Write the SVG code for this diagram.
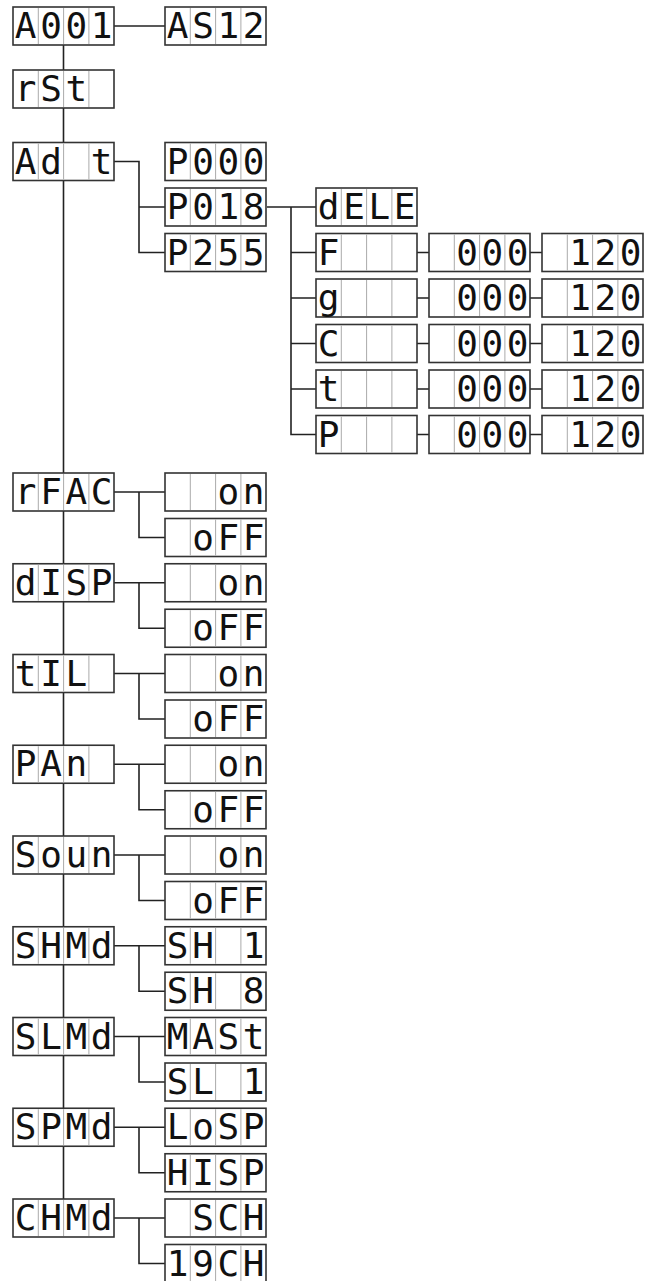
<svg xmlns="http://www.w3.org/2000/svg" xmlns:xlink="http://www.w3.org/1999/xlink" width="651" height="1281" viewBox="0 0 651 1281">
<style>
.bx{fill:#fff;stroke:#333;stroke-width:1.6}
.dv{stroke:#aaa;stroke-width:1}
.seg{font-family:"DejaVu Sans Mono","Liberation Mono",monospace;font-size:36px;text-anchor:middle;fill:#111}
.cn{fill:none;stroke:#222;stroke-width:1.6}
</style>
<defs>
<g id="box">
<rect class="bx" x="0" y="0" width="101" height="38"/>
<path class="dv" d="M25.3 1V37M50.6 1V37M75.9 1V37"/>
</g>
</defs>
<rect width="651" height="1281" fill="#fff"/>
<g id="connectors">
<path class="cn" d="M63.5 45V1199"/>
<path class="cn" d="M114 26H165"/>
<path class="cn" d="M114 161.5H139V252.5H165M139 207H165"/>
<path class="cn" d="M267 207H316M291 207V434.5H316M291 252.5H316M291 298H316M291 343.5H316M291 389H316"/>
<path class="cn" d="M417 252.5H429M417 298H429M417 343.5H429M417 389H429M417 434.5H429"/>
<path class="cn" d="M530 252.5H542M530 298H542M530 343.5H542M530 389H542M530 434.5H542"/>
<path class="cn" d="M114 492H139V537.5H165M139 492H165"/>
<path class="cn" d="M114 582.75H139V628.25H165M139 582.75H165"/>
<path class="cn" d="M114 673.5H139V719H165M139 673.5H165"/>
<path class="cn" d="M114 764.25H139V809.75H165M139 764.25H165"/>
<path class="cn" d="M114 855H139V900.5H165M139 855H165"/>
<path class="cn" d="M114 945.75H139V991.25H165M139 945.75H165"/>
<path class="cn" d="M114 1036.5H139V1082H165M139 1036.5H165"/>
<path class="cn" d="M114 1127.25H139V1172.75H165M139 1127.25H165"/>
<path class="cn" d="M114 1218H139V1263.5H165M139 1218H165"/>
</g>
<g id="n-A001"><use xlink:href="#box" x="13" y="7"/><text class="seg" x="25.7 51 76.3 101.6" y="38">A001</text></g>
<g id="n-AS12"><use xlink:href="#box" x="165" y="7"/><text class="seg" x="177.7 203 228.3 253.6" y="38">AS12</text></g>
<g id="n-rSt"><use xlink:href="#box" x="13" y="70"/><text class="seg" x="25.7 51 76.3" y="101">rSt</text></g>
<g id="n-Adt"><use xlink:href="#box" x="13" y="142.5"/><text class="seg" xml:space="preserve" x="25.7 51 76.3 101.6" y="173.5">Ad t</text></g>
<g id="n-P000"><use xlink:href="#box" x="165" y="142.5"/><text class="seg" x="177.7 203 228.3 253.6" y="173.5">P000</text></g>
<g id="n-P018"><use xlink:href="#box" x="165" y="188"/><text class="seg" x="177.7 203 228.3 253.6" y="219">P018</text></g>
<g id="n-P255"><use xlink:href="#box" x="165" y="233.5"/><text class="seg" x="177.7 203 228.3 253.6" y="264.5">P255</text></g>
<g id="n-dELE"><use xlink:href="#box" x="316" y="188"/><text class="seg" x="328.7 354 379.3 404.6" y="219">dELE</text></g>
<g id="n-F"><use xlink:href="#box" x="316" y="233.5"/><text class="seg" x="328.7" y="264.5">F</text></g>
<g id="n-g"><use xlink:href="#box" x="316" y="279"/><text class="seg" x="328.7" y="310">g</text></g>
<g id="n-C"><use xlink:href="#box" x="316" y="324.5"/><text class="seg" x="328.7" y="355.5">C</text></g>
<g id="n-t"><use xlink:href="#box" x="316" y="370"/><text class="seg" x="328.7" y="401">t</text></g>
<g id="n-P"><use xlink:href="#box" x="316" y="415.5"/><text class="seg" x="328.7" y="446.5">P</text></g>
<g id="n-F000"><use xlink:href="#box" x="429" y="233.5"/><text class="seg" x="467 492.3 517.6" y="264.5">000</text></g>
<g id="n-g000"><use xlink:href="#box" x="429" y="279"/><text class="seg" x="467 492.3 517.6" y="310">000</text></g>
<g id="n-C000"><use xlink:href="#box" x="429" y="324.5"/><text class="seg" x="467 492.3 517.6" y="355.5">000</text></g>
<g id="n-t000"><use xlink:href="#box" x="429" y="370"/><text class="seg" x="467 492.3 517.6" y="401">000</text></g>
<g id="n-P000b"><use xlink:href="#box" x="429" y="415.5"/><text class="seg" x="467 492.3 517.6" y="446.5">000</text></g>
<g id="n-F120"><use xlink:href="#box" x="542" y="233.5"/><text class="seg" x="580 605.3 630.6" y="264.5">120</text></g>
<g id="n-g120"><use xlink:href="#box" x="542" y="279"/><text class="seg" x="580 605.3 630.6" y="310">120</text></g>
<g id="n-C120"><use xlink:href="#box" x="542" y="324.5"/><text class="seg" x="580 605.3 630.6" y="355.5">120</text></g>
<g id="n-t120"><use xlink:href="#box" x="542" y="370"/><text class="seg" x="580 605.3 630.6" y="401">120</text></g>
<g id="n-P120"><use xlink:href="#box" x="542" y="415.5"/><text class="seg" x="580 605.3 630.6" y="446.5">120</text></g>
<g id="n-rFAC"><use xlink:href="#box" x="13" y="473"/><text class="seg" x="25.7 51 76.3 101.6" y="504">rFAC</text></g>
<g id="n-rFAC-on"><use xlink:href="#box" x="165" y="473"/><text class="seg" x="228.3 253.6" y="504">on</text></g>
<g id="n-rFAC-off"><use xlink:href="#box" x="165" y="518.5"/><text class="seg" x="203 228.3 253.6" y="549.5">oFF</text></g>
<g id="n-dISP"><use xlink:href="#box" x="13" y="563.75"/><text class="seg" x="25.7 51 76.3 101.6" y="594.75">dISP</text></g>
<g id="n-dISP-on"><use xlink:href="#box" x="165" y="563.75"/><text class="seg" x="228.3 253.6" y="594.75">on</text></g>
<g id="n-dISP-off"><use xlink:href="#box" x="165" y="609.25"/><text class="seg" x="203 228.3 253.6" y="640.25">oFF</text></g>
<g id="n-tIL"><use xlink:href="#box" x="13" y="654.5"/><text class="seg" x="25.7 51 76.3" y="685.5">tIL</text></g>
<g id="n-tIL-on"><use xlink:href="#box" x="165" y="654.5"/><text class="seg" x="228.3 253.6" y="685.5">on</text></g>
<g id="n-tIL-off"><use xlink:href="#box" x="165" y="700"/><text class="seg" x="203 228.3 253.6" y="731">oFF</text></g>
<g id="n-PAn"><use xlink:href="#box" x="13" y="745.25"/><text class="seg" x="25.7 51 76.3" y="776.25">PAn</text></g>
<g id="n-PAn-on"><use xlink:href="#box" x="165" y="745.25"/><text class="seg" x="228.3 253.6" y="776.25">on</text></g>
<g id="n-PAn-off"><use xlink:href="#box" x="165" y="790.75"/><text class="seg" x="203 228.3 253.6" y="821.75">oFF</text></g>
<g id="n-Soun"><use xlink:href="#box" x="13" y="836"/><text class="seg" x="25.7 51 76.3 101.6" y="867">Soun</text></g>
<g id="n-Soun-on"><use xlink:href="#box" x="165" y="836"/><text class="seg" x="228.3 253.6" y="867">on</text></g>
<g id="n-Soun-off"><use xlink:href="#box" x="165" y="881.5"/><text class="seg" x="203 228.3 253.6" y="912.5">oFF</text></g>
<g id="n-SHMd"><use xlink:href="#box" x="13" y="926.75"/><text class="seg" x="25.7 51 76.3 101.6" y="957.75">SHMd</text></g>
<g id="n-SH1"><use xlink:href="#box" x="165" y="926.75"/><text class="seg" xml:space="preserve" x="177.7 203 228.3 253.6" y="957.75">SH 1</text></g>
<g id="n-SH8"><use xlink:href="#box" x="165" y="972.25"/><text class="seg" xml:space="preserve" x="177.7 203 228.3 253.6" y="1003.25">SH 8</text></g>
<g id="n-SLMd"><use xlink:href="#box" x="13" y="1017.5"/><text class="seg" x="25.7 51 76.3 101.6" y="1048.5">SLMd</text></g>
<g id="n-MASt"><use xlink:href="#box" x="165" y="1017.5"/><text class="seg" x="177.7 203 228.3 253.6" y="1048.5">MASt</text></g>
<g id="n-SL1"><use xlink:href="#box" x="165" y="1063"/><text class="seg" xml:space="preserve" x="177.7 203 228.3 253.6" y="1094">SL 1</text></g>
<g id="n-SPMd"><use xlink:href="#box" x="13" y="1108.25"/><text class="seg" x="25.7 51 76.3 101.6" y="1139.25">SPMd</text></g>
<g id="n-LoSP"><use xlink:href="#box" x="165" y="1108.25"/><text class="seg" x="177.7 203 228.3 253.6" y="1139.25">LoSP</text></g>
<g id="n-HISP"><use xlink:href="#box" x="165" y="1153.75"/><text class="seg" x="177.7 203 228.3 253.6" y="1184.75">HISP</text></g>
<g id="n-CHMd"><use xlink:href="#box" x="13" y="1199"/><text class="seg" x="25.7 51 76.3 101.6" y="1230">CHMd</text></g>
<g id="n-SCH"><use xlink:href="#box" x="165" y="1199"/><text class="seg" x="203 228.3 253.6" y="1230">SCH</text></g>
<g id="n-19CH"><use xlink:href="#box" x="165" y="1244.5"/><text class="seg" x="177.7 203 228.3 253.6" y="1275.5">19CH</text></g>
</svg>
